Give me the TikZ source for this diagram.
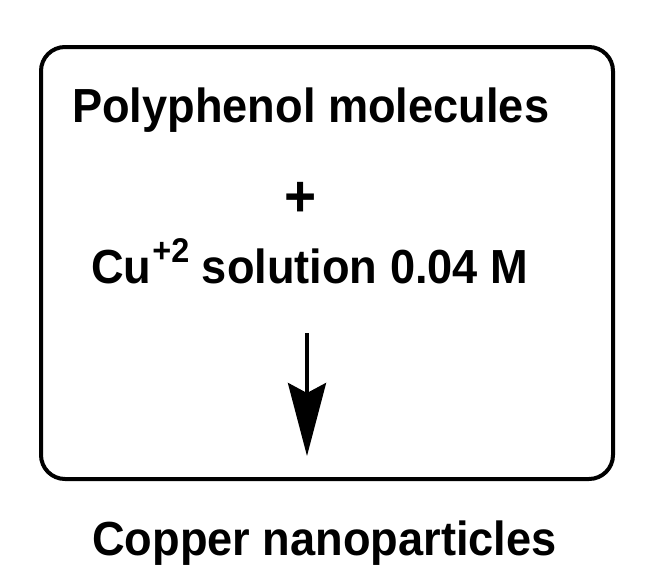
\documentclass[tikz,border=0pt]{standalone}
\usepackage{fontspec}
\setmainfont{Liberation Sans}
\usetikzlibrary{arrows.meta}
\begin{document}
\begin{tikzpicture}[x=1pt,y=-1pt,
  lbl/.style={anchor=base west,inner sep=0pt,font=\fontsize{46}{50}\selectfont\bfseries,xscale=0.982,yscale=1.04},
  boxframe/.style={draw=black,line width=4pt,rounded corners=24pt},
  flow/.style={line width=4pt,-{Stealth[length=73pt,width=38pt,inset=10pt]}}]
\useasboundingbox (0,0) rectangle (648,587);
\draw[boxframe] (41,47) rectangle (613,479);
\node[lbl] (poly) at (72,122) {Polyphenol molecules};
\node[lbl,anchor=center,font=\fontsize{56}{60}\selectfont\bfseries] (plus) at (301,199) {+};
\node[lbl,xscale=1.0] (cu) at (91,283) {Cu\kern1pt\raisebox{20pt}{\fontsize{33}{35}\selectfont +2} solution 0.04 M};
\node[lbl,xscale=1.0] (cnp) at (92,555) {Copper nanoparticles};
\coordinate (a1) at (307,333);
\coordinate (a2) at (307,456);
\draw[flow] (a1) -- (a2);
\end{tikzpicture}
\end{document}
